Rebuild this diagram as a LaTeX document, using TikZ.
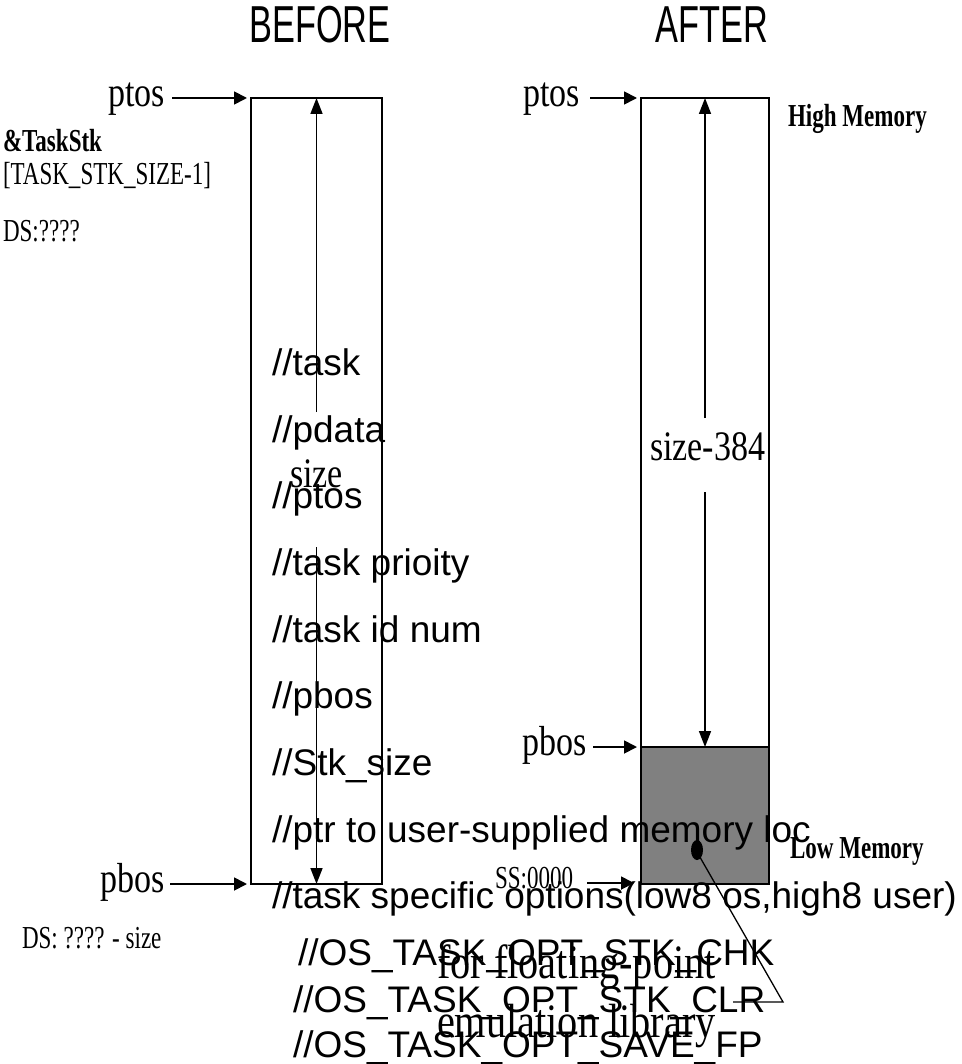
\documentclass[tikz,border=0pt]{standalone}
\usepackage{fontspec}
\setmainfont{Liberation Serif}
\newfontfamily\arialf{Liberation Sans}
\newfontfamily\titlef[FakeStretch=0.66]{Liberation Sans}
\newfontfamily\serifl[FakeStretch=0.81]{Liberation Serif}
\newfontfamily\serifs[FakeStretch=0.72]{Liberation Serif}
\newfontfamily\serifb[FakeStretch=0.84]{Liberation Serif}
\usetikzlibrary{arrows.meta}
\tikzset{
  txt/.style={inner sep=0pt, outer sep=0pt, anchor=base west},
  title/.style={inner sep=0pt, anchor=base, font=\titlef\fontsize{52}{60}\selectfont},
  cmt/.style={txt, font=\arialf\fontsize{37}{44}\selectfont},
  lab/.style={txt, font=\serifl\fontsize{42}{48}\selectfont},
  slab/.style={txt, font=\serifs\fontsize{32}{38}\selectfont},
  blab/.style={txt, font=\serifb\fontsize{48}{56}\selectfont},
  membox/.style={draw, line width=1.8pt, inner sep=0pt, outer sep=0pt},
  ptr/.style={line width=1.8pt, -{Triangle[length=13pt,width=13pt]}},
  vptr/.style={line width=1.6pt, -{Triangle[length=16pt,width=12pt]}},
  lead/.style={line width=1.3pt}
}
\begin{document}
\begin{tikzpicture}[x=1pt,y=-1pt]
\useasboundingbox (0,0) rectangle (961,1064);
% titles
\node[title] (before) at (320,43) {BEFORE};
\node[title] (after) at (712,43) {AFTER};
% left box
\node[membox, minimum width=131pt, minimum height=786pt] (lbox) at (316.5,491) {};
% right box
\node[membox, minimum width=128pt, minimum height=786pt] (rbox) at (705,491) {};
\node[membox, fill={rgb,255:red,128;green,128;blue,128}, minimum width=128pt, minimum height=137pt] (rfill) at (705,815.5) {};
% vertical arrows
\coordinate (lgapT) at (316.5,412);
\coordinate (lgapB) at (316.5,547);
\draw[vptr] (lgapT) -- (lbox.north);
\draw[vptr] (lgapB) -- (lbox.south);
\coordinate (rgapT) at (705,418);
\coordinate (rgapB) at (705,492);
\draw[vptr] (rgapT) -- (rbox.north);
\draw[vptr] (rgapB) -- (rfill.north);
% serif labels
\node[lab] (ptosL) at (108,107) {ptos};
\node[lab] (ptosR) at (523,107) {ptos};
\node[lab] (pbosL) at (100,892) {pbos};
\node[lab] (pbosR) at (522,755) {pbos};
\node[lab] (sizeL) at (290,487) {size};
\node[lab] (sizeR) at (650,460) {size-384};
\node[slab] (taskstk) at (3,152) {\bfseries\&TaskStk};
\node[slab] (tasksz) at (3,185) {[TASK\_STK\_SIZE-1]};
\node[slab] (dsq) at (3,242) {DS:????};
\node[slab] (dssize) at (22,948) {DS: ???? - size};
\node[slab] (highm) at (788,127) {\bfseries High Memory};
\node[slab] (lowm) at (790,858) {\bfseries Low Memory};
\node[slab] (ss) at (495,888) {SS:0000};
\node[blab] (fp1) at (437,978) {for floating-point};
\node[blab] (fp2) at (437,1037) {emulation library};
% pointer arrows
\coordinate (a1) at (172,98);
\coordinate (a1e) at (247,98);
\draw[ptr] (a1) -- (a1e);
\coordinate (a2) at (590,98);
\coordinate (a2e) at (637,98);
\draw[ptr] (a2) -- (a2e);
\coordinate (a3) at (170,884);
\coordinate (a3e) at (247,884);
\draw[ptr] (a3) -- (a3e);
\coordinate (a4) at (593,747);
\coordinate (a4e) at (637,747);
\draw[ptr] (a4) -- (a4e);
\coordinate (a5) at (587,883);
\coordinate (a5e) at (634,883);
\draw[ptr] (a5) -- (a5e);
% callout
\fill (697,850) ellipse [x radius=6pt, y radius=10pt];
\coordinate (dot) at (697,852);
\coordinate (c1) at (783,1002);
\coordinate (c2) at (733,1002);
\draw[lead] (dot) -- (c1) -- (c2);
% comments
\node[cmt] (k1) at (272,375) {//task};
\node[cmt] (k2) at (272,442) {//pdata};
\node[cmt] (k3) at (272,508) {//ptos};
\node[cmt] (k4) at (272,575) {//task prioity};
\node[cmt] (k5) at (272,642) {//task id num};
\node[cmt] (k6) at (272,708) {//pbos};
\node[cmt] (k7) at (272,775) {//Stk\_size};
\node[cmt] (k8) at (272,842) {//ptr to user-supplied memory loc};
\node[cmt] (k9) at (272,908) {//task specific options(low8 os,high8 user)};
\node[cmt] (k10) at (298,965) {//OS\_TASK\_OPT\_STK\_CHK};
\node[cmt] (k11) at (293,1012) {//OS\_TASK\_OPT\_STK\_CLR};
\node[cmt] (k12) at (293,1057) {//OS\_TASK\_OPT\_SAVE\_FP};
\end{tikzpicture}
\end{document}
